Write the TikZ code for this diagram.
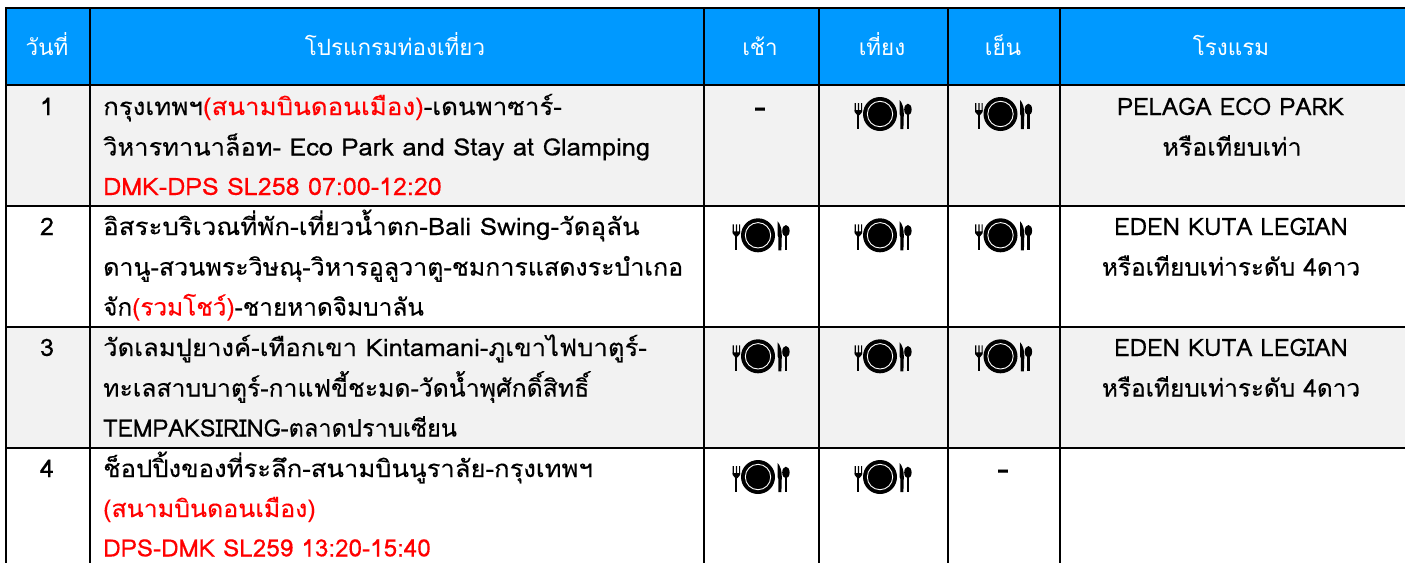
\documentclass[tikz,border=0pt]{standalone}
\usepackage{graphicx}
\usepackage{fontspec}
\setmainfont[Script=Thai,FakeBold=0.25,FakeStretch=1.06]{Loma}
\newfontfamily\headfont[Script=Thai]{Loma}
\definecolor{headblue}{HTML}{0099FF}
\definecolor{rowgray}{HTML}{F2F2F2}
\definecolor{redtxt}{HTML}{FF0000}
\newcommand{\rd}[1]{\textcolor{redtxt}{#1}}
\newcommand{\sx}[2]{\scalebox{#1}[1]{#2}}
\tikzset{x=1pt,y=-1pt,
 head/.style={font=\headfont\fontsize{22.4}{24}\selectfont,text=white,anchor=base,inner sep=0pt},
 body/.style={font=\fontsize{24}{26}\selectfont,text=black,anchor=base west,inner sep=0pt},
 ctr/.style={font=\fontsize{24}{26}\selectfont,text=black,anchor=base,inner sep=0pt},
 dashmark/.style={font=\fontsize{34}{36}\selectfont,text=black,anchor=base,inner sep=0pt},
 grid/.style={draw=black,line width=2pt},
 meal/.pic={
  \fill[black] (0,0) circle[radius=17];
  \draw[white,line width=0.9pt] (0,0) circle[radius=12.7];
  % fork
  \fill[black] (-25.3,-11) rectangle (-24.2,-3) (-22.2,-11) rectangle (-21,-3) (-19,-11) rectangle (-17.9,-3);
  \fill[black] (-25.3,-4) -- (-17.9,-4) -- (-17.9,-2) -- (-20.4,1) -- (-22.8,1) -- (-25.3,-2) -- cycle;
  \fill[black] (-22.6,0) rectangle (-20.6,15);
  % knife
  \fill[black] (19.6,-14) .. controls (22.5,-11) and (23.8,-6) .. (23.8,0) -- (23.4,15) -- (20.4,15) -- (20.4,2) -- (19.6,0) -- cycle;
  % spoon
  \fill[black] (27.9,-4.5) ellipse[x radius=3.7,y radius=5.8];
  \fill[black] (26.7,-2) rectangle (29.1,15);
 }}
\begin{document}
\begin{tikzpicture}
\useasboundingbox (0,0) rectangle (1405,563);
\fill[white] (0,0) rectangle (1405,563);
\fill[headblue] (6,8) rectangle (1405,85);
\fill[rowgray] (6,85) rectangle (1405,206);
\fill[rowgray] (6,327) rectangle (1405,448);
\foreach \n/\x in {a/5.5,b/90,c/703.5,d/819,e/947.5,f/1060}{
  \draw[grid] (\x,8) -- (\x,563);
}
\foreach \n/\y in {t/8,h/85,r/206,s/327,u/448}{
  \draw[grid] (5,\y) -- (1405,\y);
}
% header
\node[head] (h1) at (47,55.5) {วันที่};
\node[head] (h2) at (395,55.5) {โปรแกรมท่องเที่ยว};
\node[head] (h3) at (760,55.5) {เช้า};
\node[head] (h4) at (882,55.5) {เที่ยง};
\node[head] (h5) at (1003,55.5) {เย็น};
\node[head] (h6) at (1231,55.5) {โรงแรม};
% day
\node[ctr] (d1) at (47,115) {1};
\node[ctr] (d2) at (47,235) {2};
\node[ctr] (d3) at (47,356) {3};
\node[ctr] (d4) at (47,477) {4};
% programme
\node[body] (p11) at (103,115) {\sx{1.018}{กรุงเทพฯ\rd{(สนามบินดอนเมือง)}-เดนพาซาร์-}};
\node[body] (p12) at (103,155.5) {วิหารทานาล็อท- Eco Park and Stay at Glamping};
\node[body] (p13) at (103,195) {\sx{0.985}{\rd{DMK-DPS SL258 07:00-12:20}}};
\node[body] (p21) at (103,235) {\sx{1.019}{อิสระบริเวณที่พัก-เที่ยวน้ำตก-Bali Swing-วัดอุลัน}};
\node[body] (p22) at (103,275.5) {\sx{0.983}{ดานู-สวนพระวิษณุ-วิหารอูลูวาตู-ชมการแสดงระบำเกอ}};
\node[body] (p23) at (103,315.5) {\sx{0.958}{จัก\rd{(รวมโชว์)}-ชายหาดจิมบาลัน}};
\node[body] (p31) at (103,356) {\sx{1.009}{วัดเลมปูยางค์-เทือกเขา Kintamani-ภูเขาไฟบาตูร์-}};
\node[body] (p32) at (103,396.5) {\sx{0.974}{ทะเลสาบบาตูร์-กาแฟขี้ชะมด-วัดน้ำพุศักดิ์สิทธิ์}};
\node[body] (p33) at (103,436.5) {\sx{0.928}{TEMPAKSIRING-ตลาดปราบเซียน}};
\node[body] (p41) at (103,477) {\sx{1.008}{ช็อปปิ้งของที่ระลึก-สนามบินนูราลัย-กรุงเทพฯ}};
\node[body] (p42) at (103,517) {\sx{0.98}{\rd{(สนามบินดอนเมือง)}}};
\node[body] (p43) at (103,556.5) {\sx{0.953}{\rd{DPS-DMK SL259 13:20-15:40}}};
% hotel
\node[ctr] (o11) at (1230.5,115) {\sx{0.946}{PELAGA ECO PARK}};
\node[ctr] (o12) at (1232,155.5) {\sx{0.98}{หรือเทียบเท่า}};
\node[ctr] (o21) at (1231,235) {\sx{0.947}{EDEN KUTA LEGIAN}};
\node[ctr] (o22) at (1231,275.5) {\sx{0.957}{หรือเทียบเท่าระดับ 4ดาว}};
\node[ctr] (o31) at (1231,356) {\sx{0.947}{EDEN KUTA LEGIAN}};
\node[ctr] (o32) at (1231,396.5) {\sx{0.957}{หรือเทียบเท่าระดับ 4ดาว}};
% dashes
\node[dashmark] (m1) at (760,118) {-};
\node[dashmark] (m2) at (1003,480) {-};
% icons
\foreach \x/\y in {880/114,1000.5/114,758/235.3,880/235.3,1000.5/235.3,758/356.3,880/356.3,1000.5/356.3,758/477,880/477}{
  \pic at (\x,\y) {meal};
}
\end{tikzpicture}
\end{document}
